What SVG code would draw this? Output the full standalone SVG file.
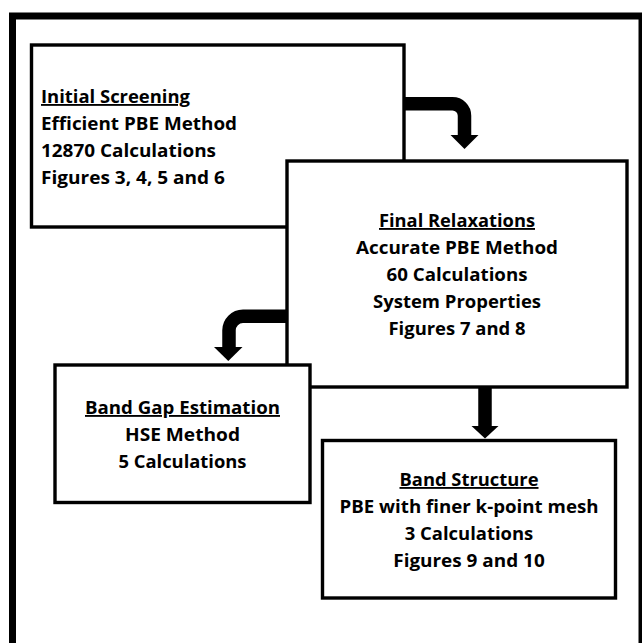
<svg xmlns="http://www.w3.org/2000/svg" width="642" height="643" viewBox="0 0 642 643">
<style>
.box{fill:#fff;stroke:#000;stroke-width:3.4}
.t{font-family:"Open Sans","Noto Sans","Liberation Sans",sans-serif;font-weight:700;font-size:18.5px;fill:#000}
.c{text-anchor:middle}
.u{text-decoration:underline}
.conn{fill:none;stroke:#000;stroke-width:13.5}
.head{fill:#000;stroke:none}
</style>
<rect width="642" height="643" fill="#fff"/>
<rect id="frame" x="12.5" y="16" width="629.5" height="700" fill="none" stroke="#000" stroke-width="7"/>
<g id="initial-screening">
<rect class="box" x="31.5" y="45" width="372.5" height="182"/>
<text class="t u" x="41" y="103" textLength="149" lengthAdjust="spacingAndGlyphs">Initial Screening</text>
<text class="t" x="41" y="130" textLength="196" lengthAdjust="spacingAndGlyphs">Efficient PBE Method</text>
<text class="t" x="41" y="157" textLength="175" lengthAdjust="spacingAndGlyphs">12870 Calculations</text>
<text class="t" x="41" y="184" textLength="184" lengthAdjust="spacingAndGlyphs">Figures 3, 4, 5 and 6</text>
</g>
<g id="final-relaxations">
<rect class="box" x="287" y="161" width="340" height="226"/>
<text class="t c u" x="457" y="227" textLength="156" lengthAdjust="spacingAndGlyphs">Final Relaxations</text>
<text class="t c" x="457" y="254" textLength="202" lengthAdjust="spacingAndGlyphs">Accurate PBE Method</text>
<text class="t c" x="457" y="281" textLength="141" lengthAdjust="spacingAndGlyphs">60 Calculations</text>
<text class="t c" x="457" y="308" textLength="168" lengthAdjust="spacingAndGlyphs">System Properties</text>
<text class="t c" x="457" y="335" textLength="137" lengthAdjust="spacingAndGlyphs">Figures 7 and 8</text>
</g>
<g id="band-gap-estimation">
<rect class="box" x="55" y="365" width="255" height="137.5"/>
<text class="t c u" x="182.5" y="414" textLength="195" lengthAdjust="spacingAndGlyphs">Band Gap Estimation</text>
<text class="t c" x="182.5" y="441" textLength="115" lengthAdjust="spacingAndGlyphs">HSE Method</text>
<text class="t c" x="182.5" y="468" textLength="128" lengthAdjust="spacingAndGlyphs">5 Calculations</text>
</g>
<g id="band-structure">
<rect class="box" x="322.5" y="440.5" width="293" height="157.5"/>
<text class="t c u" x="469" y="486" textLength="139" lengthAdjust="spacingAndGlyphs">Band Structure</text>
<text class="t c" x="469" y="513" textLength="259" lengthAdjust="spacingAndGlyphs">PBE with finer k-point mesh</text>
<text class="t c" x="469" y="540" textLength="128.5" lengthAdjust="spacingAndGlyphs">3 Calculations</text>
<text class="t c" x="469" y="567" textLength="151.5" lengthAdjust="spacingAndGlyphs">Figures 9 and 10</text>
</g>
<g id="connectors">
<path class="conn" d="M404,103.7 H452.5 A12,12 0 0 1 464.5,115.7 V136"/>
<polygon class="head" points="450.5,135 478.5,135 464.5,149"/>
<path class="conn" d="M287,316.3 H243 A14,14 0 0 0 229,330.3 V348"/>
<polygon class="head" points="214,347 242.5,347 228.3,361"/>
<path class="conn" d="M485,387 V427"/>
<polygon class="head" points="471.5,426 498.5,426 485,438.5"/>
</g>
</svg>
